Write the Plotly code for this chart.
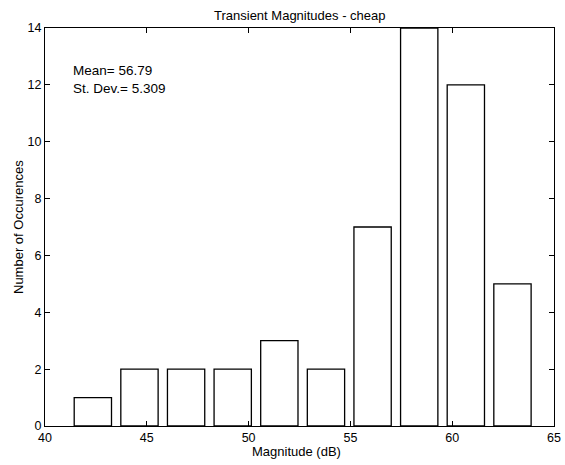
import plotly.graph_objects as go

# Histogram of transient magnitudes: bin centres (dB) and counts
bin_centers = [42.35, 44.64, 46.93, 49.22, 51.51, 53.80, 56.09, 58.38, 60.67, 62.96]
counts = [1, 2, 2, 2, 3, 2, 7, 14, 12, 5]
bin_width = 2.29
x_ticks = [40, 45, 50, 55, 60, 65]
y_ticks = [0, 2, 4, 6, 8, 10, 12, 14]
mean_val = 56.79
std_val = 5.309

FONT = "Liberation Sans, Arial, Helvetica, sans-serif"

fig = go.Figure()
fig.add_trace(go.Bar(
    x=bin_centers,
    y=counts,
    width=[bin_width * 0.8] * len(bin_centers),
    marker=dict(color="white", line=dict(color="black", width=1.3)),
    showlegend=False,
))

axis_common = dict(
    showgrid=False, zeroline=False, showline=True, linecolor="black", linewidth=1.3,
    mirror="ticks", ticks="inside", ticklen=5, tickcolor="black", tickwidth=1,
    automargin=False,
    tickfont=dict(family=FONT, size=12.5, color="black"),
)

fig.update_xaxes(range=[40, 65], tickvals=x_ticks, ticktext=[str(v) for v in x_ticks],
                 **axis_common)
fig.update_yaxes(range=[0, 14], tickvals=y_ticks, ticktext=[str(v) for v in y_ticks],
                 **axis_common)

PL, PR, PT, PB = 45, 11, 28, 39
plot_w = 565 - PL - PR
plot_h = 465 - PT - PB

fig.update_layout(
    width=565, height=465,
    margin=dict(l=PL, r=PR, t=PT, b=PB),
    paper_bgcolor="white", plot_bgcolor="white",
    font=dict(family=FONT, size=13, color="black"),
    annotations=[
        dict(text="Transient Magnitudes - cheap", xref="paper", yref="paper",
             x=0.5, y=1, yshift=13, showarrow=False,
             font=dict(family=FONT, size=13), xanchor="center", yanchor="middle"),
        dict(text="Magnitude (dB)", xref="paper", yref="paper",
             x=(296 - PL) / plot_w, y=0, yshift=-25, showarrow=False,
             font=dict(family=FONT, size=13), xanchor="center", yanchor="middle"),
        dict(text="Number of Occurences", xref="paper", yref="paper",
             x=0, xshift=-(PL - 18), y=(465 - PB - 227) / plot_h, textangle=-90,
             showarrow=False,
             font=dict(family=FONT, size=13), xanchor="center", yanchor="middle"),
        dict(text=f"Mean= {mean_val:.2f}", xref="paper", yref="paper",
             x=(71 - PL) / plot_w, y=(465 - PB - 70) / plot_h, showarrow=False,
             font=dict(family=FONT, size=13.5), xanchor="left", yanchor="middle"),
        dict(text=f"St. Dev.= {std_val:.3f}", xref="paper", yref="paper",
             x=(71 - PL) / plot_w, y=(465 - PB - 88) / plot_h, showarrow=False,
             font=dict(family=FONT, size=13.5), xanchor="left", yanchor="middle"),
    ],
)

fig.write_html("out.html")
